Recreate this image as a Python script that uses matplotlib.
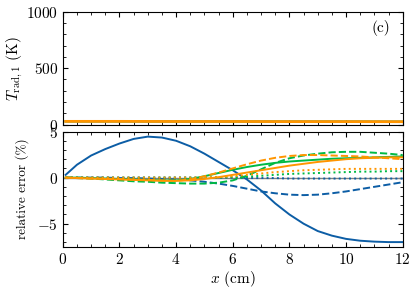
import numpy as np
import matplotlib.pyplot as plt
from matplotlib.ticker import MultipleLocator

plt.rcParams['font.family'] = 'serif'
plt.rcParams['font.serif'] = ['cmr10', 'DejaVu Serif']
plt.rcParams['mathtext.fontset'] = 'cm'
plt.rcParams['axes.formatter.use_mathtext'] = True
plt.rcParams['font.size'] = 11

# 颜色 (蓝 / 绿 / 橙)
c_blue, c_green, c_orange = '#0C5DA5', '#00B945', '#FF9500'

# 上图: T_rad,1
x_top = [0.1, 2, 4, 6, 8, 10, 12]
t_blue = [28, 28, 27, 27, 26, 26, 25]
t_green = [28, 28, 27, 27, 26, 26, 25]
t_orange = [28, 28, 27, 27, 26, 26, 25]

# 下图: 相对误差 (%)
x_err = [0.1, 0.5, 1, 1.5, 2, 2.5, 3, 3.5, 4, 4.5, 5, 5.5, 6, 6.5, 7, 7.5, 8,
         8.5, 9, 9.5, 10, 10.5, 11, 11.5, 12]
blue_solid = [0.3, 1.4, 2.4, 3.1, 3.7, 4.2, 4.45, 4.35, 4.0, 3.4, 2.6, 1.7, 0.8,
              -0.2, -1.4, -2.8, -4.0, -5.0, -5.8, -6.3, -6.65, -6.85, -6.95, -7.0, -7.0]
blue_dash = [0.0, 0.0, 0.0, 0.0, -0.05, -0.05, -0.1, -0.15, -0.2, -0.3, -0.45, -0.65, -0.9,
             -1.2, -1.5, -1.7, -1.85, -1.9, -1.85, -1.7, -1.5, -1.25, -1.0, -0.75, -0.5]
blue_dot = [0.0, 0.0, 0.0, 0.0, 0.0, 0.0, 0.0, 0.0, 0.0, 0.0, 0.0, 0.0, 0.0,
            -0.05, -0.05, -0.05, -0.1, -0.1, -0.1, -0.1, -0.1, -0.1, -0.1, -0.1, -0.1]
green_solid = [0.0, 0.0, -0.05, -0.1, -0.15, -0.2, -0.25, -0.3, -0.3, -0.15, 0.15, 0.5, 0.85,
               1.15, 1.4, 1.6, 1.75, 1.85, 1.95, 2.05, 2.1, 2.15, 2.2, 2.25, 2.3]
green_dash = [0.0, -0.05, -0.1, -0.2, -0.3, -0.4, -0.45, -0.55, -0.6, -0.65, -0.65, -0.55, -0.3,
              0.2, 0.9, 1.6, 2.1, 2.4, 2.6, 2.75, 2.8, 2.8, 2.7, 2.6, 2.45]
green_dot = [0.0, 0.0, 0.0, 0.0, 0.0, 0.0, 0.0, 0.0, 0.0, 0.0, 0.0, 0.0, 0.05,
             0.1, 0.2, 0.3, 0.4, 0.45, 0.5, 0.55, 0.6, 0.65, 0.65, 0.7, 0.7]
orange_solid = [0.0, -0.05, -0.1, -0.15, -0.2, -0.25, -0.3, -0.35, -0.35, -0.3, -0.15, 0.05, 0.3,
                0.55, 0.8, 1.05, 1.3, 1.5, 1.7, 1.85, 2.0, 2.1, 2.15, 2.2, 2.2]
orange_dash = [0.0, -0.05, -0.1, -0.1, -0.15, -0.2, -0.25, -0.3, -0.35, -0.2, 0.15, 0.55, 1.0,
               1.45, 1.85, 2.15, 2.35, 2.45, 2.45, 2.4, 2.35, 2.3, 2.2, 2.1, 2.0]
orange_dot = [0.0, 0.0, 0.0, 0.0, 0.0, 0.0, 0.0, 0.0, 0.0, 0.0, 0.0, 0.05, 0.15,
              0.3, 0.45, 0.6, 0.7, 0.8, 0.85, 0.9, 0.95, 0.95, 0.95, 0.95, 0.95]

fig = plt.figure(figsize=(4.16, 2.93), dpi=100)
ax1 = fig.add_axes([0.151, 0.575, 0.817, 0.385])
ax2 = fig.add_axes([0.151, 0.158, 0.817, 0.393])

lw = 1.4
ax1.plot(x_top, t_blue, color=c_blue, lw=lw)
ax1.plot(x_top, t_green, color=c_green, lw=lw)
ax1.plot(x_top, t_orange, color=c_orange, lw=2)
ax1.set_xlim(0, 12)
ax1.set_ylim(0, 1000)
ax1.set_ylabel(r'$T_{\rm rad,1}$ (K)', labelpad=1)
ax1.tick_params(labelbottom=False)
ax1.yaxis.set_major_locator(MultipleLocator(500))
ax1.yaxis.set_minor_locator(MultipleLocator(100))
ax1.text(0.963, 0.86, '(c)', transform=ax1.transAxes, ha='right', va='center')

ax2.axhline(0, color='gray', lw=1)
ax2.plot(x_err, blue_solid, color=c_blue, lw=lw)
ax2.plot(x_err, blue_dash, color=c_blue, lw=lw, ls='--')
ax2.plot(x_err, blue_dot, color=c_blue, lw=lw, ls=':')
ax2.plot(x_err, green_solid, color=c_green, lw=lw)
ax2.plot(x_err, green_dash, color=c_green, lw=lw, ls='--')
ax2.plot(x_err, green_dot, color=c_green, lw=lw, ls=':')
ax2.plot(x_err, orange_solid, color=c_orange, lw=lw)
ax2.plot(x_err, orange_dash, color=c_orange, lw=lw, ls='--')
ax2.plot(x_err, orange_dot, color=c_orange, lw=lw, ls=':')
ax2.set_xlim(0, 12)
ax2.set_ylim(-7.5, 5)
ax2.set_xlabel(r'$x$ (cm)', labelpad=2)
ax2.set_ylabel('relative error (%)', fontsize=9.5, labelpad=6)
ax2.yaxis.set_major_locator(MultipleLocator(5))
ax2.yaxis.set_minor_locator(MultipleLocator(1))

for ax in (ax1, ax2):
    ax.xaxis.set_major_locator(MultipleLocator(2))
    ax.xaxis.set_minor_locator(MultipleLocator(0.5))
    ax.tick_params(which='both', direction='in', top=True, right=True)
    ax.tick_params(which='major', length=3.5)
    ax.tick_params(which='minor', length=2)

fig.savefig('out.png', dpi=100)
